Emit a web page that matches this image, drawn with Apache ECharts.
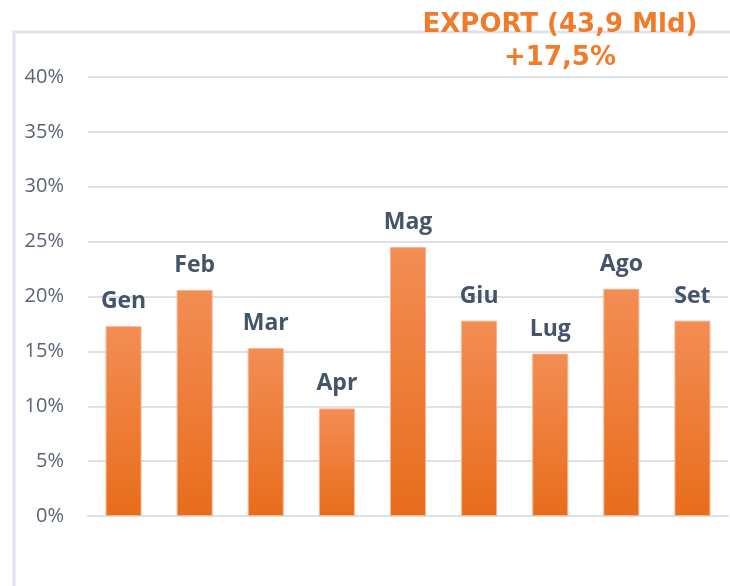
<!DOCTYPE html>
<html>
<head>
<meta charset="utf-8">
<script src="https://cdn.jsdelivr.net/npm/echarts@6/dist/echarts.min.js"></script>
<style>
html, body { margin: 0; padding: 0; background: #fff; }
#container { width: 730px; height: 586px; }
</style>
</head>
<body>
<div id="container"></div>
<script>
// dati export mensili (variazione %)
var mesi = ['Gen', 'Feb', 'Mar', 'Apr', 'Mag', 'Giu', 'Lug', 'Ago', 'Set'];
var valori = [17.3, 20.6, 15.3, 9.8, 24.5, 17.8, 14.8, 20.7, 17.8];
var tickMax = 40;

var myChart = echarts.init(document.getElementById('container'));
var option = {
    animation: false,
    backgroundColor: '#fff',
    title: {
        text: 'EXPORT (43,9 Mld)\n+17,5%',
        left: 555,
        top: 4,
        textAlign: 'center',
        textStyle: {
            color: '#f07b2b',
            fontSize: 26,
            fontWeight: 'bold',
            fontFamily: 'DejaVu Sans',
            lineHeight: 33
        }
    },
    graphic: [{
        type: 'polyline',
        shape: { points: [[14, 586], [14, 32], [730, 32]] },
        style: { stroke: '#dde3ec', lineWidth: 3, fill: null },
        z: -1
    }],
    grid: {
        left: 88,
        right: 2,
        top: 77,
        bottom: 70
    },
    xAxis: {
        type: 'category',
        data: mesi,
        axisLine: { show: true, lineStyle: { color: '#dde1e6', width: 2 } },
        axisTick: { show: false },
        axisLabel: { show: false }
    },
    yAxis: {
        type: 'value',
        min: 0,
        max: tickMax,
        interval: 5,
        axisLine: { show: false },
        axisTick: { show: false },
        splitLine: { lineStyle: { color: '#dde1e6', width: 2 } },
        axisLabel: {
            formatter: '{value}%',
            color: '#5a6475',
            fontSize: 20,
            fontFamily: 'Open Sans',
            margin: 24
        }
    },
    series: [{
        type: 'bar',
        data: valori,
        barWidth: 36,
        itemStyle: {
            color: new echarts.graphic.LinearGradient(0, 0, 0, 1, [
                { offset: 0, color: '#f38d54' },
                { offset: 1, color: '#e86d1c' }
            ]),
            borderColor: '#f7b48c',
            borderWidth: 1
        },
        label: {
            show: true,
            position: 'top',
            distance: 13,
            formatter: function (p) { return mesi[p.dataIndex]; },
            color: '#44546a',
            fontSize: 23,
            fontWeight: 'bold',
            fontFamily: 'Open Sans'
        }
    }]
};
myChart.setOption(option);
</script>
</body>
</html>
